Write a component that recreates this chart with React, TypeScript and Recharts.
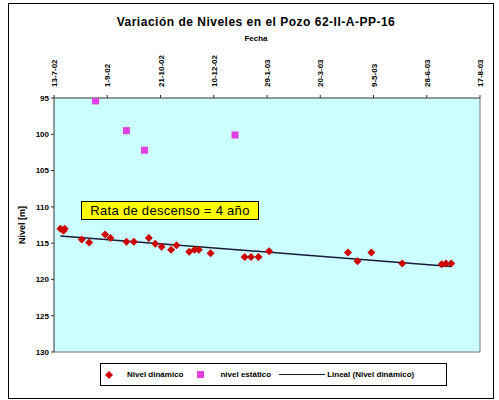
import {
  CartesianGrid,
  ComposedChart,
  Line,
  ReferenceLine,
  Scatter,
  XAxis,
  YAxis,
  ZAxis,
} from "recharts"

// dias contados desde el 13-7-02
const fechaTicks = [0, 50, 100, 150, 200, 250, 300, 350, 400]
const fechaLabels = ["13-7-02", "1-9-02", "21-10-02", "10-12-02", "29-1-03", "20-3-03", "9-5-03", "28-6-03", "17-8-03"]
const nivelTicks = [95, 100, 105, 110, 115, 120, 125, 130]

const dinamicoDias = [6, 9, 10, 26, 33, 48, 53, 68, 75, 89, 95, 101, 110, 115, 127, 132, 136, 147, 179, 185, 192, 202, 276, 285, 298, 327, 364, 368, 373]
const dinamicoNivel = [113.0, 113.3, 113.0, 114.5, 114.9, 113.8, 114.3, 114.8, 114.8, 114.3, 115.1, 115.5, 115.9, 115.3, 116.2, 115.9, 115.9, 116.4, 116.9, 116.9, 116.9, 116.1, 116.3, 117.5, 116.3, 117.8, 117.9, 117.8, 117.8]

const estaticoDias = [39, 68, 85, 170]
const estaticoNivel = [95.4, 99.5, 102.2, 100.1]

const dinamico = dinamicoDias.map((x, i) => ({ x, y: dinamicoNivel[i] }))
const estatico = estaticoDias.map((x, i) => ({ x, y: estaticoNivel[i] }))

// tendencia lineal (minimos cuadrados) sobre el nivel dinamico
const n = dinamicoDias.length
const mx = dinamicoDias.reduce((s, v) => s + v, 0) / n
const my = dinamicoNivel.reduce((s, v) => s + v, 0) / n
let sxy = 0
let sxx = 0
dinamicoDias.forEach((x, i) => {
  sxy += (x - mx) * (dinamicoNivel[i] - my)
  sxx += (x - mx) * (x - mx)
})
const pendiente = sxy / sxx
const x0 = Math.min(...dinamicoDias)
const x1 = Math.max(...dinamicoDias)
const tendencia = [
  { x: x0, y: my + pendiente * (x0 - mx) },
  { x: x1, y: my + pendiente * (x1 - mx) },
]

const font = "Arial, 'Liberation Sans', sans-serif"

function FechaTick(props: any) {
  const { x, payload } = props
  const i = fechaTicks.indexOf(payload.value)
  return (
    <text
      x={x}
      y={87}
      dy={3}
      transform={`rotate(-90 ${x} 87)`}
      textAnchor="start"
      fontSize={8}
      fontWeight="bold"
      fontFamily={font}
      fill="#000"
    >
      {fechaLabels[i]}
    </text>
  )
}

// rombo pequeño, como el marcador de Excel
function Rombo(props: any) {
  const { cx, cy } = props
  if (cx == null || cy == null) return null
  const r = 4
  return <polygon points={`${cx},${cy - r} ${cx + r},${cy} ${cx},${cy + r} ${cx - r},${cy}`} fill="#cc0000" />
}

function Cuadro(props: any) {
  const { cx, cy } = props
  if (cx == null || cy == null) return null
  return <rect x={cx - 3.5} y={cy - 3.5} width={7} height={7} fill="#e040e0" />
}

export default function App() {
  return (
    <div style={{ position: "absolute", left: 0, top: 0, width: 499, height: 400, fontFamily: font, background: "#fff" }}>
      <div style={{ position: "absolute", left: 8, top: 3, width: 484, height: 394, border: "1px solid #000" }} />
      <div style={{ position: "absolute", left: 0, top: 15, width: 512, textAlign: "center", fontSize: 12, fontWeight: "bold", letterSpacing: 0.5 }}>
        Variación de Niveles en el Pozo 62-II-A-PP-16
      </div>
      <div style={{ position: "absolute", left: 0, top: 34, width: 512, textAlign: "center", fontSize: 8, fontWeight: "bold" }}>
        Fecha
      </div>
      <div
        style={{
          position: "absolute",
          left: 22,
          top: 225,
          transform: "translate(-50%, -50%) rotate(-90deg)",
          fontSize: 9,
          fontWeight: "bold",
          whiteSpace: "nowrap",
        }}
      >
        Nivel [m]
      </div>

      <div style={{ position: "absolute", left: 0, top: 0 }}>
        <ComposedChart width={499} height={400} margin={{ top: 48, right: 19, bottom: 48, left: 24 }}>
          <CartesianGrid horizontal={false} vertical={false} fill="#ccffff" />
          <XAxis
            dataKey="x"
            type="number"
            orientation="top"
            domain={[0, 400]}
            ticks={fechaTicks}
            height={50}
            tick={<FechaTick />}
            tickSize={3}
            axisLine={{ stroke: "#333" }}
            tickLine={{ stroke: "#333" }}
            allowDataOverflow
          />
          <YAxis
            dataKey="y"
            type="number"
            reversed
            domain={[95, 130]}
            ticks={nivelTicks}
            width={30}
            tickSize={3}
            tick={{ fontSize: 8, fontWeight: "bold", fill: "#000", fontFamily: font }}
            axisLine={{ stroke: "#333" }}
            tickLine={{ stroke: "#333" }}
            allowDataOverflow
          />
          <ZAxis range={[45, 45]} />
          <ReferenceLine x={400} stroke="#777" />
          <ReferenceLine y={130} stroke="#777" />
          <Line
            data={tendencia}
            dataKey="y"
            stroke="#1a1a3a"
            strokeWidth={1.5}
            dot={false}
            isAnimationActive={false}
          />
          <Scatter data={dinamico} shape={<Rombo />} fill="#cc0000" isAnimationActive={false} />
          <Scatter data={estatico} shape={<Cuadro />} fill="#e040e0" isAnimationActive={false} />
        </ComposedChart>
      </div>

      <div
        style={{
          position: "absolute",
          left: 81,
          top: 201,
          width: 176,
          height: 17,
          background: "#ffff00",
          border: "1px solid #000",
          fontSize: 13,
          lineHeight: "17px",
          textAlign: "center",
          whiteSpace: "nowrap",
          letterSpacing: 0.3,
        }}
      >
        Rata de descenso = 4 año
      </div>

      <div
        style={{
          position: "absolute",
          left: 100,
          top: 363,
          width: 345,
          height: 21,
          border: "1px solid #000",
          display: "flex",
          alignItems: "center",
          fontSize: 8,
          fontWeight: "bold",
          whiteSpace: "nowrap",
        }}
      >
        <svg width={8} height={8} style={{ marginLeft: 4 }}>
          <polygon points="4,0 8,4 4,8 0,4" fill="#cc0000" />
        </svg>
        <span style={{ marginLeft: 14 }}>Nivel dinámico</span>
        <span style={{ marginLeft: 14, width: 7, height: 7, background: "#e040e0", display: "inline-block" }} />
        <span style={{ marginLeft: 16 }}>nivel estático</span>
        <span style={{ marginLeft: 8, width: 46, height: 0, borderTop: "1.5px solid #1a1a3a", display: "inline-block" }} />
        <span style={{ marginLeft: 2 }}>Lineal (Nivel dinámico)</span>
      </div>
    </div>
  )
}
